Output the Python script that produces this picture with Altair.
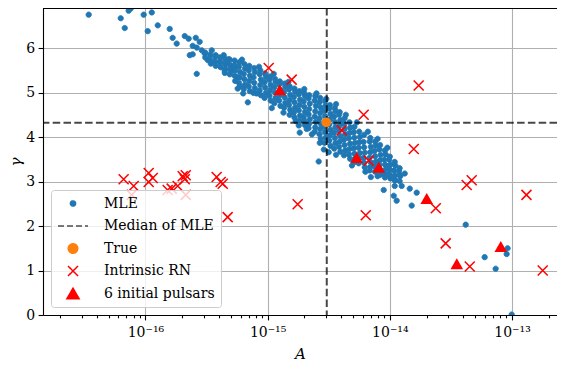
import altair as alt
import pandas as pd

# ---------------- data (log10 A, gamma) ----------------
mle_points = [
    # sparse upper-left tail
    [-16.464, 6.75], [-16.202, 6.67], [-16.169, 6.45], [-16.137, 6.84], [-16.120, 6.89],
    [-16.014, 6.75], [-15.981, 6.38], [-15.948, 6.80], [-15.899, 6.51], [-15.801, 6.43],
    [-15.777, 6.23], [-15.744, 6.10], [-15.678, 6.27], [-15.646, 6.21], [-15.613, 6.05],
    [-15.588, 6.23], [-15.580, 6.01], [-15.556, 6.14], [-15.539, 5.95], [-15.637, 5.84],
    [-15.613, 5.86], [-15.515, 5.88], [-15.490, 5.73], [-15.457, 5.95], [-15.425, 5.84],
    [-15.392, 5.70], [-15.359, 5.84], [-15.318, 5.75], [-15.343, 5.64], [-15.294, 5.59],
    [-15.351, 5.49], [-15.294, 5.49], [-15.253, 5.35], [-15.580, 5.42], [-15.245, 5.09],
    # upper band
    [-15.51, 5.90], [-15.51, 5.79],
    [-15.47, 5.85], [-15.47, 5.74], [-15.465, 5.65],
    [-15.43, 5.81], [-15.43, 5.70], [-15.425, 5.60],
    [-15.39, 5.79], [-15.39, 5.68], [-15.385, 5.57],
    [-15.35, 5.76], [-15.35, 5.65], [-15.345, 5.54], [-15.35, 5.44],
    [-15.31, 5.74], [-15.31, 5.63], [-15.305, 5.52], [-15.31, 5.41],
    [-15.27, 5.72], [-15.27, 5.61], [-15.265, 5.50], [-15.27, 5.38], [-15.265, 5.26],
    # dense band
    [-15.23, 5.68], [-15.235, 5.58], [-15.225, 5.46], [-15.23, 5.34], [-15.235, 5.22], [-15.225, 5.14],
    [-15.19, 5.64], [-15.185, 5.54], [-15.195, 5.42], [-15.19, 5.30], [-15.185, 5.18], [-15.195, 5.08],
    [-15.15, 5.60], [-15.155, 5.50], [-15.145, 5.38], [-15.15, 5.26], [-15.155, 5.14], [-15.145, 5.03],
    [-15.11, 5.55], [-15.105, 5.46], [-15.115, 5.34], [-15.11, 5.22], [-15.105, 5.10], [-15.115, 4.99],
    [-15.06, 5.50], [-15.065, 5.41], [-15.055, 5.29], [-15.06, 5.17], [-15.065, 5.05], [-15.055, 4.94],
    [-15.02, 5.43], [-15.015, 5.35], [-15.025, 5.23], [-15.02, 5.11], [-15.015, 4.99], [-15.025, 4.88],
    [-14.98, 5.36], [-14.985, 5.29], [-14.975, 5.17], [-14.98, 5.05], [-14.985, 4.93], [-14.975, 4.82],
    [-14.94, 5.31], [-14.935, 5.24], [-14.945, 5.12], [-14.94, 5.00], [-14.935, 4.88], [-14.945, 4.76],
    [-14.90, 5.25], [-14.905, 5.18], [-14.895, 5.06], [-14.90, 4.94], [-14.905, 4.82], [-14.895, 4.70],
    [-14.86, 5.20], [-14.855, 5.13], [-14.865, 5.01], [-14.86, 4.89], [-14.855, 4.77], [-14.865, 4.66],
    [-14.82, 5.14], [-14.825, 5.07], [-14.815, 4.95], [-14.82, 4.83], [-14.825, 4.72], [-14.815, 4.61], [-14.82, 4.50],
    [-14.78, 5.09], [-14.775, 5.02], [-14.785, 4.90], [-14.78, 4.78], [-14.775, 4.66], [-14.785, 4.55], [-14.78, 4.44],
    [-14.74, 5.03], [-14.745, 4.96], [-14.735, 4.84], [-14.74, 4.72], [-14.745, 4.60], [-14.735, 4.48], [-14.74, 4.37], [-14.745, 4.26],
    [-14.70, 4.99], [-14.695, 4.92], [-14.705, 4.80], [-14.70, 4.68], [-14.695, 4.56], [-14.705, 4.45], [-14.70, 4.37], [-14.695, 4.27],
    [-14.66, 4.94], [-14.665, 4.87], [-14.655, 4.75], [-14.66, 4.63], [-14.665, 4.51], [-14.655, 4.40], [-14.66, 4.30], [-14.665, 4.20],
    [-14.61, 4.92], [-14.615, 4.82], [-14.605, 4.70], [-14.61, 4.58], [-14.615, 4.46], [-14.605, 4.34], [-14.61, 4.22], [-14.615, 4.12],
    [-14.57, 4.88], [-14.575, 4.78], [-14.565, 4.66], [-14.57, 4.54], [-14.575, 4.42], [-14.565, 4.30], [-14.57, 4.18], [-14.575, 4.06], [-14.565, 3.96],
    [-14.53, 4.81], [-14.525, 4.71], [-14.535, 4.59], [-14.53, 4.47], [-14.525, 4.35], [-14.535, 4.23], [-14.53, 4.11], [-14.525, 3.99], [-14.535, 3.87],
    [-14.49, 4.72], [-14.495, 4.64], [-14.485, 4.52], [-14.49, 4.40], [-14.495, 4.28], [-14.485, 4.16], [-14.49, 4.04], [-14.495, 3.92], [-14.485, 3.80],
    [-14.45, 4.65], [-14.445, 4.58], [-14.455, 4.46], [-14.45, 4.34], [-14.445, 4.22], [-14.455, 4.10], [-14.45, 3.98], [-14.445, 3.86], [-14.455, 3.74],
    [-14.41, 4.56], [-14.415, 4.50], [-14.405, 4.38], [-14.41, 4.26], [-14.415, 4.14], [-14.405, 4.02], [-14.41, 3.90], [-14.415, 3.78], [-14.405, 3.67],
    [-14.37, 4.42], [-14.375, 4.30], [-14.37, 4.18], [-14.365, 4.06], [-14.375, 3.94], [-14.37, 3.82], [-14.365, 3.70], [-14.375, 3.59],
    [-14.33, 4.33], [-14.325, 4.21], [-14.33, 4.09], [-14.335, 3.97], [-14.325, 3.85], [-14.33, 3.73], [-14.335, 3.61], [-14.325, 3.51],
    [-14.29, 4.23], [-14.295, 4.11], [-14.29, 3.99], [-14.285, 3.87], [-14.295, 3.75], [-14.29, 3.63], [-14.285, 3.52], [-14.295, 3.43],
    [-14.25, 4.12], [-14.245, 4.00], [-14.25, 3.88], [-14.255, 3.76], [-14.245, 3.64], [-14.25, 3.52], [-14.255, 3.41],
    [-14.21, 4.05], [-14.215, 3.89], [-14.21, 3.77], [-14.205, 3.65], [-14.215, 3.53], [-14.21, 3.42], [-14.205, 3.32],
    [-14.16, 3.98], [-14.165, 3.90], [-14.155, 3.78], [-14.16, 3.66], [-14.165, 3.54], [-14.155, 3.43], [-14.16, 3.33], [-14.165, 3.25],
    [-14.12, 3.90], [-14.115, 3.81], [-14.125, 3.69], [-14.12, 3.57], [-14.115, 3.45], [-14.125, 3.34], [-14.12, 3.22],
    [-14.08, 3.82], [-14.085, 3.72], [-14.075, 3.60], [-14.08, 3.48], [-14.085, 3.37], [-14.075, 3.26], [-14.08, 3.15],
    [-14.04, 3.70], [-14.035, 3.61], [-14.045, 3.49], [-14.04, 3.38], [-14.035, 3.27], [-14.045, 3.17], [-14.04, 3.09],
    [-14.00, 3.56], [-14.005, 3.49], [-13.995, 3.38], [-14.00, 3.27], [-14.005, 3.17], [-13.995, 3.07],
    [-13.96, 3.44], [-13.955, 3.36], [-13.965, 3.25], [-13.96, 3.14], [-13.955, 3.03],
    [-13.92, 3.30], [-13.925, 3.23], [-13.915, 3.12], [-13.92, 3.01],
    # ragged edges and stragglers
    [-15.20, 4.98], [-15.09, 4.98], [-15.162, 4.78], [-14.966, 4.65], [-14.87, 4.55],
    [-14.77, 4.36], [-14.737, 4.10], [-14.638, 4.06], [-14.68, 4.18], [-14.573, 3.87],
    [-14.54, 3.72], [-14.582, 3.45], [-14.50, 3.66], [-14.44, 3.60], [-14.31, 3.36],
    [-14.20, 3.22], [-14.155, 3.10], [-14.10, 3.12],
    [-15.21, 5.74], [-15.07, 5.58], [-14.95, 5.42], [-14.83, 5.24], [-14.70, 5.08],
    [-14.60, 4.98], [-14.52, 4.86], [-14.44, 4.74], [-14.36, 4.50], [-14.27, 4.33],
    [-14.18, 4.12], [-14.10, 3.96], [-14.02, 3.76],
    # lower-right tail
    [-14.017, 3.34], [-14.001, 3.14], [-13.919, 3.14], [-13.878, 3.18], [-13.960, 3.03],
    [-13.960, 2.90], [-13.903, 2.90], [-13.837, 2.84], [-13.780, 2.75], [-14.050, 2.81],
    [-13.968, 2.68], [-13.944, 2.57], [-13.821, 2.46], [-13.379, 2.03], [-13.224, 1.30],
    [-13.134, 1.04], [-13.044, 1.37], [-13.036, 1.50], [-13.003, 0.01],
]

true_logA = [-14.52]
true_gamma = [4.33]

median_logA = [-14.516]
median_gamma = [4.32]

rn_logA = [-14.991, -14.803, -13.764, -14.214, -14.394, -13.804, -14.173, -13.330,
           -13.371, -12.882, -14.754, -14.197, -13.624, -13.543, -13.346, -12.749,
           -15.327, -16.178, -16.096, -15.973, -15.940, -15.973, -15.818, -15.785,
           -15.736, -15.695, -15.670, -15.678, -15.417, -15.384, -15.367, -16.112,
           -15.670]
rn_gamma = [5.55, 5.29, 5.16, 4.50, 4.15, 3.73, 3.47, 3.03,
            2.92, 2.70, 2.49, 2.24, 2.40, 1.61, 1.09, 1.00,
            2.20, 3.05, 2.90, 3.19, 3.08, 2.99, 2.81, 2.84,
            2.90, 3.12, 3.14, 3.05, 3.10, 2.99, 2.95, 2.70,
            2.70]

init_logA = [-14.901, -14.271, -14.091, -13.698, -13.452, -13.092]
init_gamma = [5.06, 3.54, 3.32, 2.62, 1.15, 1.54]

series_names = ["MLE", "Median of MLE", "True", "Intrinsic RN", "6 initial pulsars"]
major_ticks = [1e-16, 1e-15, 1e-14, 1e-13]
minor_ticks = ([m * 1e-17 for m in range(2, 10)] + [m * 1e-16 for m in range(2, 10)]
               + [m * 1e-15 for m in range(2, 10)] + [m * 1e-14 for m in range(2, 10)] + [2e-13])
y_ticks = [0, 1, 2, 3, 4, 5, 6]

# ---------------- styling ----------------
BLUE, ORANGE, RED, GREY = "#1f77b4", "#ff7f0e", "#ff0000", "#4d4d4d"
CROSS = "M-1,-1L1,1M-1,1L1,-1"
FONT = "DejaVu Serif"

mle_df = pd.DataFrame(mle_points, columns=["logA", "gamma"])
mle_df["A"] = 10.0 ** mle_df["logA"]
mle_df["series"] = "MLE"

true_df = pd.DataFrame({"A": [10.0 ** v for v in true_logA], "gamma": true_gamma})
vmed_df = pd.DataFrame({"A": [10.0 ** v for v in median_logA]})
hmed_df = pd.DataFrame({"gamma": median_gamma})
rn_df = pd.DataFrame({"A": [10.0 ** v for v in rn_logA], "gamma": rn_gamma})
init_df = pd.DataFrame({"A": [10.0 ** v for v in init_logA], "gamma": init_gamma})

xscale = alt.Scale(type="log", domain=[10 ** -16.838, 10 ** -12.632], nice=False)
yscale = alt.Scale(domain=[0, 6.9], nice=False)

is_major = "abs(log(datum.value)/LN10 - round(log(datum.value)/LN10)) < 0.001"
label_expr = (
    f"!({is_major}) ? '' : "
    "round(log(datum.value)/LN10) == -16 ? '10⁻¹⁶' : "
    "round(log(datum.value)/LN10) == -15 ? '10⁻¹⁵' : "
    "round(log(datum.value)/LN10) == -14 ? '10⁻¹⁴' : "
    "round(log(datum.value)/LN10) == -13 ? '10⁻¹³' : ''"
)

x_axis = alt.Axis(
    orient="bottom",
    values=sorted(major_ticks + minor_ticks),
    labelExpr=label_expr,
    labelOverlap=False,
    grid=True,
    gridOpacity={"condition": {"test": is_major, "value": 1}, "value": 0},
    tickSize={"condition": {"test": is_major, "value": 4.9}, "value": 2.8},
    labelPadding=6,
    title="A",
    titleFontStyle="italic",
    titlePadding=7,
)
y_axis = alt.Axis(
    values=y_ticks,
    grid=True,
    tickSize=4.9,
    labelPadding=3.5,
    title="γ",
    titleFontStyle="italic",
    titlePadding=2,
)

legend_props = dict(title=None)
col_range = [BLUE, GREY, ORANGE, RED, RED]

mle = alt.Chart(mle_df).mark_point(filled=True, opacity=1, strokeWidth=1, clip=True).encode(
    x=alt.X("A:Q", scale=xscale, axis=x_axis),
    y=alt.Y("gamma:Q", scale=yscale, axis=y_axis),
    fill=alt.Fill("series:N", scale=alt.Scale(domain=series_names, range=col_range),
                  legend=alt.Legend(**legend_props)),
    stroke=alt.Stroke("series:N", scale=alt.Scale(domain=series_names, range=col_range),
                      legend=alt.Legend(**legend_props)),
    shape=alt.Shape("series:N", scale=alt.Scale(domain=series_names,
                                                range=["circle", "stroke", "circle", CROSS, "triangle-up"]),
                    legend=alt.Legend(**legend_props)),
    size=alt.Size("series:N", scale=alt.Scale(type="ordinal", domain=series_names, range=[27, 900, 90, 100, 150]),
                  legend=alt.Legend(**legend_props)),
    strokeDash=alt.StrokeDash("series:N", scale=alt.Scale(domain=series_names,
                                                          range=[[1, 0], [6, 3], [1, 0], [1, 0], [1, 0]]),
                              legend=alt.Legend(**legend_props)),
)

vline = alt.Chart(vmed_df).mark_rule(stroke="black", strokeOpacity=0.72, strokeWidth=2, strokeDash=[7.5, 3.3]).encode(
    x=alt.X("A:Q", scale=xscale)
)
hline = alt.Chart(hmed_df).mark_rule(stroke="black", strokeOpacity=0.72, strokeWidth=2, strokeDash=[7.5, 3.3]).encode(
    y=alt.Y("gamma:Q", scale=yscale)
)
true_pt = alt.Chart(true_df).mark_point(filled=True, shape="circle", size=95, fill=ORANGE, opacity=1,
                                        strokeWidth=0, clip=True).encode(
    x=alt.X("A:Q", scale=xscale), y=alt.Y("gamma:Q", scale=yscale)
)
rn = alt.Chart(rn_df).mark_point(filled=False, shape=CROSS, size=100, stroke=RED, strokeWidth=1.5,
                                 opacity=1, clip=True).encode(
    x=alt.X("A:Q", scale=xscale), y=alt.Y("gamma:Q", scale=yscale)
)
init = alt.Chart(init_df).mark_point(filled=True, shape="triangle-up", size=160, fill=RED, opacity=1,
                                     strokeWidth=0, clip=True).encode(
    x=alt.X("A:Q", scale=xscale), y=alt.Y("gamma:Q", scale=yscale)
)
# top spine of the axes frame
top_spine = alt.Chart(hmed_df).mark_rule(color="black", strokeWidth=1.1).encode(y=alt.value(0.5))

chart = (
    alt.layer(mle, vline, hline, true_pt, rn, init, top_spine)
    .properties(
        width=514, height=307,
        autosize=alt.AutoSizeParams(type="none"),
        padding={"left": 35, "top": 0, "right": 0, "bottom": 52},
    )
    .configure_view(stroke=None)
    .configure_axis(
        labelFont=FONT, titleFont=FONT, labelFontSize=14, titleFontSize=15,
        labelColor="black", titleColor="black", titleFontWeight="normal",
        domainColor="black", domainWidth=1.1, tickColor="black", tickWidth=1.1,
        gridColor="#b0b0b0", gridWidth=1.1,
    )
    .configure_legend(
        orient="bottom-left", offset=8, labelFont=FONT, labelFontSize=14, labelColor="black",
        padding=6, labelOffset=15, rowPadding=7.5, clipHeight=15, cornerRadius=3,
        strokeColor="#cccccc", fillColor="rgba(255,255,255,0.8)", symbolStrokeWidth=1.5,
    )
)

chart.save("out.html", embed_options={"renderer": "svg", "actions": False})
